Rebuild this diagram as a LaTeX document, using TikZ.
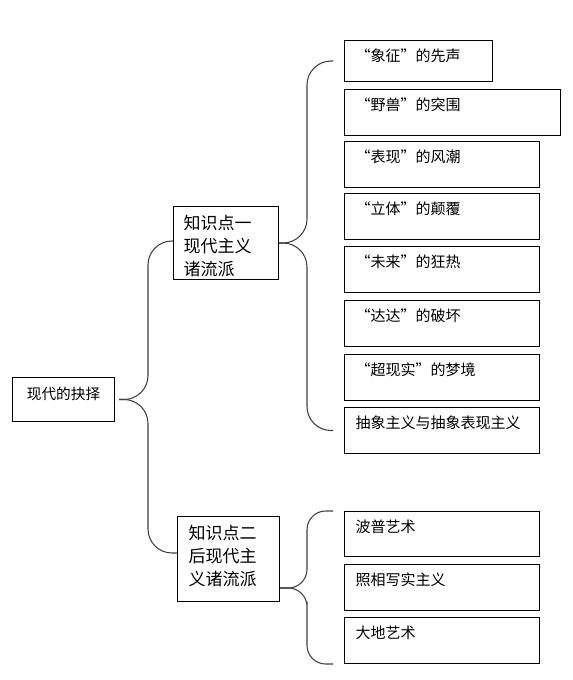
\documentclass[tikz,border=0pt]{standalone}
\usepackage{fontspec}
\setmainfont{Noto Sans CJK SC}
\newcommand\boxtxt[4]{\parbox[b][#2][t]{#1}{\rule{0pt}{#3}#4}}
\begin{document}
\begin{tikzpicture}[x=0.75pt,y=-0.75pt,
  bx/.style={draw=black, line width=0.75pt, anchor=north west, inner ysep=0pt, inner xsep=8.25pt, font=\fontsize{11.25pt}{15pt}\selectfont},
  kbx/.style={bx, font=\fontsize{12.75pt}{17.25pt}\selectfont},
  brace/.style={draw=black!75, line width=0.8pt, rounded corners=18pt}]
\useasboundingbox (0,0) rectangle (573,680);

% root
\node[bx, inner xsep=10.125pt, font=\fontsize{11pt}{15pt}\selectfont] (root) at (12,377)
  {\boxtxt{56.25pt}{33pt}{16.2pt}{\centering 现代的抉择}};

% second level
\node[kbx, inner xsep=7.5pt] (k1) at (173,206)
  {\boxtxt{63.75pt}{54.75pt}{16.9pt}{知识点一\\现代主义\\诸流派}};
\node[kbx, inner xsep=8.25pt] (k2) at (177,516)
  {\boxtxt{60pt}{63.75pt}{16.9pt}{知识点二\\后现代主\\义诸流派}};

% third level, group 1
\node[bx] (b1) at (344,40)    {\boxtxt{94.5pt}{30.75pt}{15.75pt}{“象征”的先声}};
\node[bx] (b2) at (344,89)    {\boxtxt{145.5pt}{34.5pt}{15.75pt}{“野兽”的突围}};
\node[bx] (b3) at (344,141.5) {\boxtxt{129.75pt}{34.5pt}{15.75pt}{“表现”的风潮}};
\node[bx] (b4) at (344,193.5) {\boxtxt{129.75pt}{34.5pt}{15.75pt}{“立体”的颠覆}};
\node[bx] (b5) at (344,246.5) {\boxtxt{129.75pt}{34.5pt}{15.75pt}{“未来”的狂热}};
\node[bx] (b6) at (344,300)   {\boxtxt{129.75pt}{34.5pt}{15.75pt}{“达达”的破坏}};
\node[bx] (b7) at (344,353.5) {\boxtxt{129.75pt}{34.5pt}{15.75pt}{“超现实”的梦境}};
\node[bx] (b8) at (344,407)   {\boxtxt{129.75pt}{34.5pt}{15.75pt}{抽象主义与抽象表现主义}};

% third level, group 2
\node[bx] (b9)  at (344,511) {\boxtxt{129.75pt}{33.75pt}{15.75pt}{波普艺术}};
\node[bx] (b10) at (344,564) {\boxtxt{129.75pt}{34.5pt}{15.75pt}{照相写实主义}};
\node[bx] (b11) at (344,617) {\boxtxt{129.75pt}{34.5pt}{15.75pt}{大地艺术}};

% braces
\draw[brace] ([xshift=3pt]root.east) -| (148,300) |- ([yshift=1.5pt]k1.west);
\draw[brace] ([xshift=3pt]root.east) -| (148,450) |- ([yshift=4.5pt]k2.west);

\draw[brace] (k1.east) -| (307,150) |- ([xshift=-8.25pt]b1.west);
\draw[brace] (k1.east) -| (307,350) |- ([xshift=-8.25pt]b8.west);

\draw[brace, rounded corners=14pt] ([yshift=10.5pt]k2.south east) -| (307,550) |- ([xshift=-8.25pt]b9.north west);
\draw[brace, rounded corners=14pt] ([yshift=10.5pt]k2.south east) -| (307,620) |- ([xshift=-8.25pt]b11.south west);
\end{tikzpicture}
\end{document}
